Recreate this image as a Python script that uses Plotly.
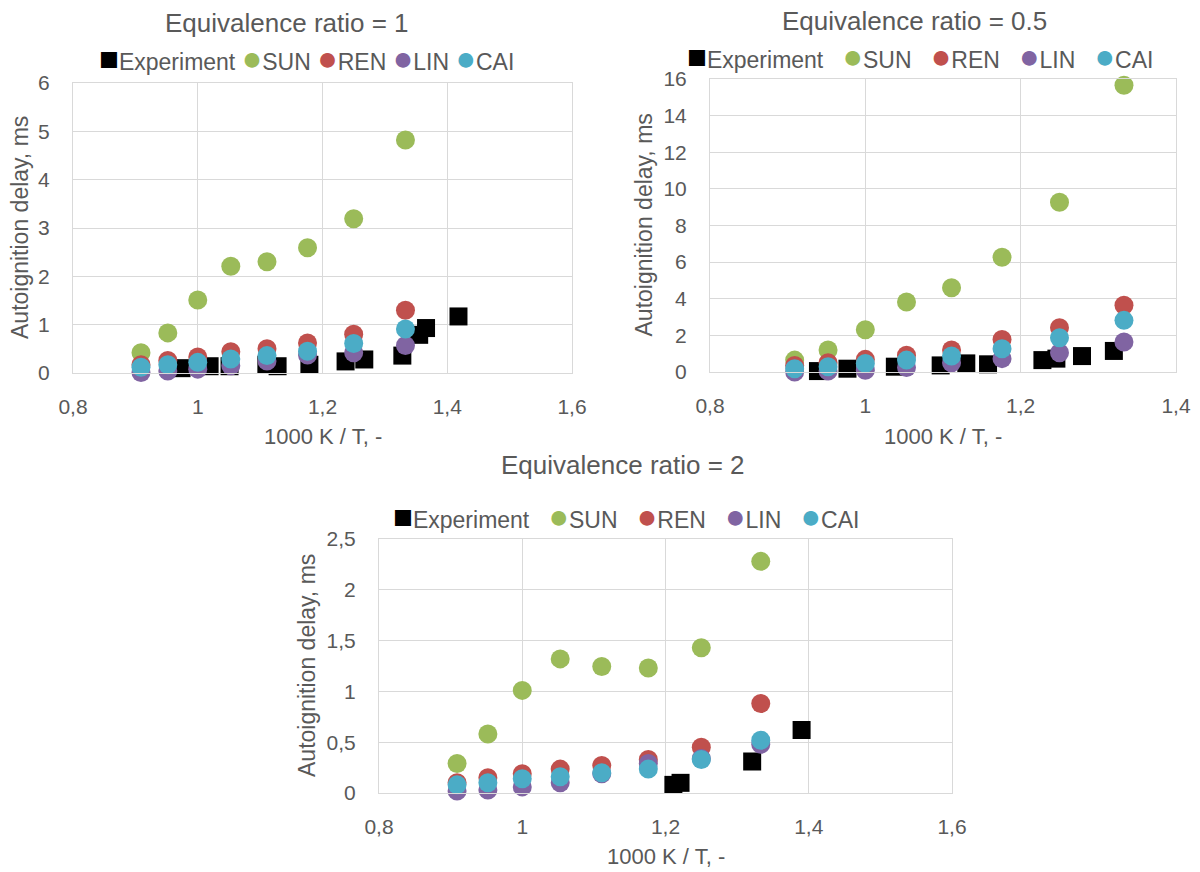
import plotly.graph_objects as go

# ---------------- data ----------------
X_MODEL = [0.909, 0.952, 1.0, 1.053, 1.111, 1.176, 1.25, 1.333]

# Equivalence ratio = 1
EXP1_X = [0.974, 1.019, 1.051, 1.110, 1.128, 1.179, 1.237, 1.267, 1.328, 1.355, 1.366, 1.418]
EXP1_Y = [0.10, 0.14, 0.14, 0.17, 0.14, 0.17, 0.24, 0.28, 0.36, 0.79, 0.93, 1.17]
SUN1 = [0.42, 0.83, 1.51, 2.21, 2.30, 2.59, 3.19, 4.82]
REN1 = [0.17, 0.26, 0.33, 0.44, 0.50, 0.62, 0.80, 1.30]
LIN1 = [0.01, 0.04, 0.08, 0.15, 0.25, 0.37, 0.42, 0.57]
CAI1 = [0.12, 0.17, 0.22, 0.29, 0.36, 0.45, 0.61, 0.91]

# Equivalence ratio = 0.5
EXP2_X = [0.939, 0.977, 1.038, 1.097, 1.130, 1.158, 1.228, 1.246, 1.279, 1.320]
EXP2_Y = [0.05, 0.18, 0.29, 0.36, 0.47, 0.42, 0.65, 0.73, 0.87, 1.15]
SUN2 = [0.65, 1.20, 2.31, 3.82, 4.60, 6.27, 9.27, 15.66]
REN2 = [0.36, 0.50, 0.69, 0.91, 1.20, 1.78, 2.42, 3.64]
LIN2 = [0.00, 0.05, 0.10, 0.24, 0.50, 0.73, 1.05, 1.64]
CAI2 = [0.18, 0.29, 0.47, 0.65, 0.87, 1.27, 1.87, 2.82]

# Equivalence ratio = 2
EXP3_X = [1.211, 1.221, 1.321, 1.390]
EXP3_Y = [0.08, 0.10, 0.31, 0.62]
SUN3 = [0.29, 0.58, 1.01, 1.32, 1.245, 1.23, 1.43, 2.28]
REN3 = [0.10, 0.15, 0.19, 0.235, 0.27, 0.33, 0.45, 0.88]
LIN3 = [0.02, 0.03, 0.06, 0.10, 0.19, 0.29, 0.34, 0.48]
CAI3 = [0.08, 0.10, 0.14, 0.16, 0.20, 0.235, 0.33, 0.52]

SERIES_NAMES = ["Experiment", "SUN", "REN", "LIN", "CAI"]
TITLES = ["Equivalence ratio = 1", "Equivalence ratio = 0.5", "Equivalence ratio = 2"]
X_TITLE = "1000 K / T, -"
Y_TITLE = "Autoignition delay, ms"

# ---------------- style ----------------
W, H = 1200, 872
FONT = "Liberation Sans, Arial, sans-serif"
TXT = "#595959"
GRID = "#d9d9d9"
COLORS = {"Experiment": "#000000", "SUN": "#9BBB59", "REN": "#C0504D",
          "LIN": "#8064A2", "CAI": "#4BACC6"}
SYMBOLS = {"Experiment": "square", "SUN": "circle", "REN": "circle",
           "LIN": "circle", "CAI": "circle"}
GLYPHS = {"square": "\u25A0", "circle": "\u25CF"}
GLYPH_SIZE = {"square": 33, "circle": 34}


def px_x(p):
    return p / W


def px_y(p):
    return 1 - p / H


# plot areas in pixels: (left, right, top, bottom)
AREAS = [(73, 572, 83, 373), (710, 1176, 79, 372), (379, 952, 539, 793)]
X_RANGES = [[0.8, 1.6], [0.8, 1.4], [0.8, 1.6]]
Y_RANGES = [[0, 6], [0, 16], [0, 2.5]]
Y_DTICKS = [1, 2, 0.5]
TITLE_POS = [(287, 23), (914, 21), (623, 465)]
LEGEND_POS = [(306, 58), (920, 56), (626, 516)]
LEGEND_GAP = [1, 3, 3]  # non-breaking spaces between entries
YTITLE_X = [20, 643, 307]
XTITLE_OFFSET = [64, 64, 63]

datasets = [
    (EXP1_X, EXP1_Y, [SUN1, REN1, LIN1, CAI1]),
    (EXP2_X, EXP2_Y, [SUN2, REN2, LIN2, CAI2]),
    (EXP3_X, EXP3_Y, [SUN3, REN3, LIN3, CAI3]),
]

fig = go.Figure()
layout = dict(
    width=W, height=H, margin=dict(l=0, r=0, t=0, b=0, autoexpand=False),
    paper_bgcolor="white", plot_bgcolor="white",
    font=dict(family=FONT, color=TXT, size=21),
    separators=", ",
    showlegend=False,
    annotations=[],
)

for i, (ex, ey, models) in enumerate(datasets):
    n = "" if i == 0 else str(i + 1)
    xa, ya = "x" + n, "y" + n
    fig.add_trace(go.Scatter(
        x=ex, y=ey, mode="markers", name="Experiment",
        xaxis=xa, yaxis=ya, cliponaxis=False,
        marker=dict(symbol="square", size=18, color=COLORS["Experiment"]),
    ))
    for name, vals in zip(SERIES_NAMES[1:], models):
        fig.add_trace(go.Scatter(
            x=X_MODEL, y=vals, mode="markers", name=name,
            xaxis=xa, yaxis=ya, cliponaxis=False,
            marker=dict(symbol="circle", size=19, color=COLORS[name]),
        ))
    l, r, t, b = AREAS[i]
    axis_common = dict(showgrid=True, gridcolor=GRID, gridwidth=1, zeroline=False,
                       showline=True, linecolor=GRID, linewidth=1, mirror=True,
                       ticks="", automargin=False,
                       tickfont=dict(size=21, color=TXT, family=FONT))
    layout["xaxis" + n] = dict(domain=[px_x(l), px_x(r)], range=X_RANGES[i],
                               tick0=0.8, dtick=0.2, anchor=ya,
                               ticklabelstandoff=15, **axis_common)
    layout["yaxis" + n] = dict(domain=[px_y(b), px_y(t)], range=Y_RANGES[i],
                               tick0=0, dtick=Y_DTICKS[i], anchor=xa,
                               ticklabelstandoff=18, **axis_common)

    # legend row (symbol glyph + series name), drawn as text
    gap = "\u00a0" * LEGEND_GAP[i]
    legend_text = gap.join(
        '<span style="color:%s;font-size:%dpx">%s</span>%s'
        % (COLORS[s], GLYPH_SIZE[SYMBOLS[s]], GLYPHS[SYMBOLS[s]], s)
        for s in SERIES_NAMES)
    lx, ly = LEGEND_POS[i]
    layout["annotations"].append(dict(
        text=legend_text, x=px_x(lx), y=px_y(ly), xref="paper", yref="paper",
        xanchor="center", yanchor="middle", showarrow=False,
        font=dict(size=23, color=TXT, family=FONT)))

    tx, ty = TITLE_POS[i]
    layout["annotations"].append(dict(
        text=TITLES[i], x=px_x(tx), y=px_y(ty), xref="paper", yref="paper",
        xanchor="center", yanchor="middle", showarrow=False,
        font=dict(size=26, color=TXT, family=FONT)))
    layout["annotations"].append(dict(
        text=X_TITLE, x=px_x((l + r) / 2), y=px_y(b + XTITLE_OFFSET[i]),
        xref="paper", yref="paper",
        xanchor="center", yanchor="middle", showarrow=False,
        font=dict(size=22, color=TXT, family=FONT)))
    layout["annotations"].append(dict(
        text=Y_TITLE, x=px_x(YTITLE_X[i]), y=px_y((t + b) / 2), xref="paper", yref="paper",
        xanchor="center", yanchor="middle", showarrow=False, textangle=-90,
        font=dict(size=23, color=TXT, family=FONT)))

fig.update_layout(**layout)
fig.write_html("out.html",
               config={"displayModeBar": False},
               post_script="document.body.style.margin='0px';"
                           "document.body.style.overflow='hidden';")
